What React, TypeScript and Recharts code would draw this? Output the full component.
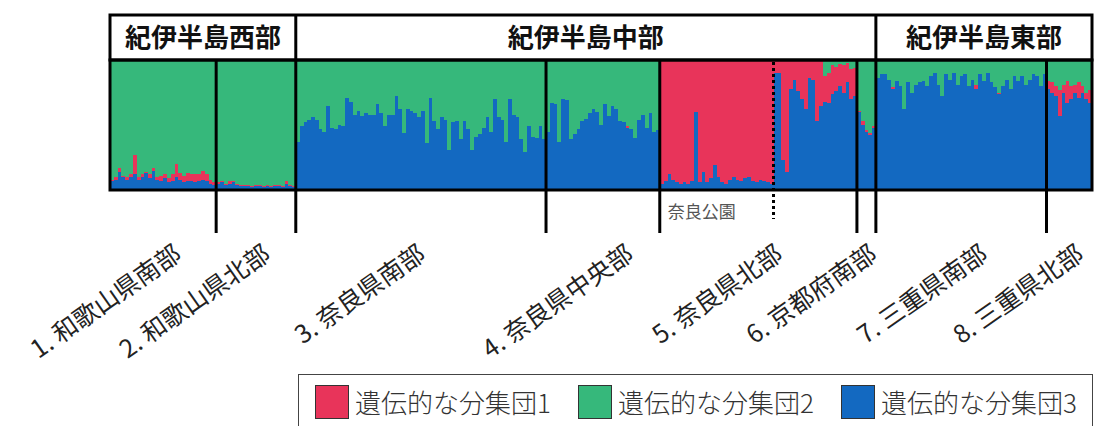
import React from 'react';
import { BarChart, Bar, XAxis, YAxis } from 'recharts';

const WIDTH = 1097;
const HEIGHT = 426;
const PLOT_LEFT = 110;
const PLOT_RIGHT = 1092;
const PLOT_TOP = 60;
const PLOT_BOTTOM = 190;
const HEADER_TOP = 15;

const RED = '#E8345A';
const GREEN = '#36B87B';
const BLUE = '#1369C1';
const FONT = '"Noto Sans CJK JP", "Noto Sans", sans-serif';

// Ancestry proportions per individual: q3 = cluster 3 (blue), q1 = cluster 1 (red).
// Cluster 2 (green) takes whatever is left, since the three sum to 1.
const wakayamaSouthQ3 = [0.07, 0.08, 0.14, 0.1, 0.08, 0.1, 0.12, 0.08, 0.1, 0.13, 0.09, 0.15, 0.08, 0.07, 0.09, 0.06, 0.07, 0.1, 0.08, 0.06, 0.07, 0.07, 0.06, 0.07, 0.08, 0.07, 0.05, 0.04];
const wakayamaSouthQ1 = [0.01, 0.02, 0.03, 0.01, 0.02, 0.02, 0.15, 0.02, 0.02, 0.01, 0.03, 0.02, 0.02, 0.04, 0.03, 0.03, 0.05, 0.1, 0.05, 0.05, 0.06, 0.05, 0.06, 0.05, 0.07, 0.05, 0.03, 0.02];

const wakayamaNorthQ3 = [0.05, 0.06, 0.04, 0.05, 0.06, 0.04, 0.03, 0.03, 0.03, 0.02, 0.03, 0.03, 0.02, 0.03, 0.02, 0.03, 0.03, 0.02, 0.05, 0.03, 0.02];
const wakayamaNorthQ1 = [0.01, 0.01, 0.01, 0.02, 0.01, 0.01, 0.01, 0.01, 0.01, 0.01, 0.01, 0.01, 0.01, 0.01, 0.01, 0.01, 0.01, 0.01, 0.02, 0.01, 0.01];

const naraSouthQ3 = [
  0.37, 0.49, 0.52, 0.54, 0.56, 0.54, 0.47, 0.45, 0.65, 0.48, 0.47, 0.5, 0.49, 0.71, 0.68, 0.58, 0.61, 0.57, 0.59, 0.58, 0.58, 0.66, 0.59,
  0.49, 0.58, 0.58, 0.72, 0.62, 0.44, 0.62, 0.61, 0.59, 0.56, 0.61, 0.36, 0.71, 0.53, 0.47, 0.56, 0.54, 0.31, 0.52, 0.53, 0.39, 0.53, 0.47,
  0.31, 0.41, 0.43, 0.48, 0.56, 0.45, 0.7, 0.56, 0.54, 0.37, 0.7, 0.58, 0.56, 0.39, 0.29, 0.49, 0.41, 0.4, 0.49, 0.39,
];
const naraSouthQ1 = naraSouthQ3.map(() => 0);

const naraCentralQ3 = [0.45, 0.67, 0.66, 0.37, 0.7, 0.69, 0.39, 0.43, 0.47, 0.53, 0.55, 0.59, 0.62, 0.6, 0.5, 0.66, 0.57, 0.65, 0.62, 0.53, 0.52, 0.48, 0.47, 0.4, 0.54, 0.58, 0.48, 0.59, 0.45, 0.46];
const naraCentralQ1 = [0, 0, 0, 0, 0, 0, 0, 0, 0, 0, 0, 0, 0, 0, 0, 0, 0, 0, 0, 0, 0, 0.01, 0, 0, 0, 0, 0, 0, 0, 0];

const naraParkQ3 = [0.05, 0.07, 0.12, 0.08, 0.06, 0.05, 0.06, 0.05, 0.07, 0.6, 0.06, 0.14, 0.06, 0.09, 0.19, 0.1, 0.06, 0.05, 0.08, 0.1, 0.08, 0.07, 0.09, 0.1, 0.07, 0.06, 0.08, 0.07, 0.06, 0.05];
const naraParkQ1 = [0.95, 0.93, 0.88, 0.92, 0.94, 0.95, 0.94, 0.95, 0.93, 0.4, 0.94, 0.86, 0.94, 0.91, 0.81, 0.9, 0.94, 0.95, 0.92, 0.9, 0.92, 0.93, 0.91, 0.9, 0.93, 0.94, 0.92, 0.93, 0.94, 0.95];

const naraNorthQ3 = [0.9, 0.9, 0.23, 0.14, 0.78, 0.85, 0.76, 0.7, 0.62, 0.86, 0.85, 0.53, 0.65, 0.68, 0.67, 0.74, 0.76, 0.8, 0.75, 0.83, 0.7, 0.72];
const naraNorthQ1 = [0.1, 0.1, 0.77, 0.86, 0.22, 0.15, 0.24, 0.3, 0.38, 0.14, 0.15, 0.47, 0.35, 0.2, 0.23, 0.22, 0.19, 0.17, 0.21, 0.15, 0.23, 0.22];

const kyotoSouthQ3 = [0.6, 0.5, 0.45, 0.42, 0.48];
const kyotoSouthQ1 = [0.01, 0.03, 0.01, 0.02, 0.01];

const mieSouthQ3 = [
  0.86, 0.89, 0.89, 0.85, 0.78, 0.84, 0.8, 0.62, 0.83, 0.75, 0.81, 0.83, 0.84, 0.8, 0.88, 0.9, 0.81, 0.72, 0.89, 0.85, 0.9, 0.81, 0.88,
  0.89, 0.8, 0.85, 0.78, 0.89, 0.84, 0.9, 0.83, 0.79, 0.74, 0.8, 0.85, 0.78, 0.88, 0.84, 0.88, 0.81, 0.85, 0.89, 0.88, 0.8, 0.89,
];
const mieSouthQ1 = [
  0, 0, 0, 0, 0.01, 0, 0, 0, 0, 0, 0, 0, 0, 0, 0, 0, 0, 0, 0, 0, 0, 0, 0, 0, 0, 0, 0.03, 0, 0, 0, 0, 0, 0.01, 0, 0, 0, 0, 0, 0, 0, 0, 0, 0, 0, 0,
];

const mieNorthQ3 = [0.78, 0.75, 0.72, 0.57, 0.75, 0.67, 0.7, 0.75, 0.71, 0.75, 0.7, 0.67];
const mieNorthQ1 = [0.06, 0.08, 0.08, 0.2, 0.06, 0.17, 0.1, 0.06, 0.12, 0.05, 0.05, 0.1];

const regionNames = ['1. 和歌山県南部', '2. 和歌山県北部', '3. 奈良県南部', '4. 奈良県中央部', '5. 奈良県北部', '6. 京都府南部', '7. 三重県南部', '8. 三重県北部'];
const groupNames = ['紀伊半島西部', '紀伊半島中部', '紀伊半島東部'];
const clusterNames = ['遺伝的な分集団1', '遺伝的な分集団2', '遺伝的な分集団3'];
const parkLabel = '奈良公園';

// samples in plotting order; region 5 is Nara Park followed by the rest of northern Nara
const samples = [
  { region: 0, q3: wakayamaSouthQ3, q1: wakayamaSouthQ1 },
  { region: 1, q3: wakayamaNorthQ3, q1: wakayamaNorthQ1 },
  { region: 2, q3: naraSouthQ3, q1: naraSouthQ1 },
  { region: 3, q3: naraCentralQ3, q1: naraCentralQ1 },
  { region: 4, q3: naraParkQ3, q1: naraParkQ1 },
  { region: 4, q3: naraNorthQ3, q1: naraNorthQ1 },
  { region: 5, q3: kyotoSouthQ3, q1: kyotoSouthQ1 },
  { region: 6, q3: mieSouthQ3, q1: mieSouthQ1 },
  { region: 7, q3: mieNorthQ3, q1: mieNorthQ1 },
];

const rows: { id: number; region: number; q1: number; q2: number; q3: number }[] = [];
samples.forEach((s) =>
  s.q3.forEach((b, i) => {
    const r = s.q1[i];
    rows.push({ id: rows.length, region: s.region, q3: b, q1: r, q2: Math.max(0, +(1 - b - r).toFixed(3)) });
  }),
);

const N = rows.length;
const step = (PLOT_RIGHT - PLOT_LEFT) / N;
const xAt = (i: number) => PLOT_LEFT + i * step;

// first sample index of each region, plus the end
const regionStart = regionNames.map((_, r) => rows.findIndex((d) => d.region === r));
const regionEnd = regionNames.map((_, r) => (r + 1 < regionNames.length ? regionStart[r + 1] : N));
const parkEnd = wakayamaSouthQ3.length + wakayamaNorthQ3.length + naraSouthQ3.length + naraCentralQ3.length + naraParkQ3.length;

// label anchors sit a little right of each region's middle
const labelShift = [20, 16, 6, 32, 26, 12, 28, 16];

const groupBounds = [
  [PLOT_LEFT, xAt(regionStart[2])],
  [xAt(regionStart[2]), xAt(regionStart[6])],
  [xAt(regionStart[6]), PLOT_RIGHT],
];

const Overlay = () => (
  <svg width={WIDTH} height={HEIGHT} style={{ position: 'absolute', left: 0, top: 0, pointerEvents: 'none' }}>
    <rect x={PLOT_LEFT} y={HEADER_TOP} width={PLOT_RIGHT - PLOT_LEFT} height={PLOT_TOP - HEADER_TOP} fill="none" stroke="#000" strokeWidth={3} />
    <rect x={PLOT_LEFT} y={PLOT_TOP} width={PLOT_RIGHT - PLOT_LEFT} height={PLOT_BOTTOM - PLOT_TOP} fill="none" stroke="#000" strokeWidth={3} />
    {groupBounds.slice(1).map(([x0]) => (
      <line key={x0} x1={x0} x2={x0} y1={HEADER_TOP} y2={PLOT_TOP} stroke="#000" strokeWidth={3} />
    ))}
    {groupBounds.map(([x0, x1], i) => (
      <text key={groupNames[i]} x={(x0 + x1) / 2} y={47} textAnchor="middle" fontFamily={FONT} fontWeight={700} fontSize={26} fill="#111">
        {groupNames[i]}
      </text>
    ))}
    {regionStart.slice(1).map((s) => (
      <line key={s} x1={xAt(s)} x2={xAt(s)} y1={PLOT_TOP} y2={233} stroke="#000" strokeWidth={3} />
    ))}
    <line x1={xAt(parkEnd)} x2={xAt(parkEnd)} y1={PLOT_TOP + 2} y2={219} stroke="#000" strokeWidth={3} strokeDasharray="3 3" />
    <text x={xAt(regionStart[4]) + 8} y={218} fontFamily={FONT} fontSize={17} fill="#555">
      {parkLabel}
    </text>
    {regionNames.map((name, r) => {
      const cx = (xAt(regionStart[r]) + xAt(regionEnd[r])) / 2 + labelShift[r];
      const cy = 258;
      return (
        <text key={name} x={cx} y={cy} textAnchor="end" transform={`rotate(-35 ${cx} ${cy})`} fontFamily={FONT} fontSize={25} fill="#222">
          {name}
        </text>
      );
    })}
  </svg>
);

const Key = () => {
  const colors = [RED, GREEN, BLUE];
  return (
    <div
      style={{
        position: 'absolute',
        left: 298,
        top: 374,
        width: 795,
        height: 60,
        border: '1.5px solid #444',
        boxSizing: 'border-box',
        fontFamily: FONT,
        background: '#fff',
      }}
    >
      {clusterNames.map((name, i) => (
        <div key={name} style={{ position: 'absolute', left: 16 + i * 263, top: 10, display: 'flex', alignItems: 'center' }}>
          <span style={{ width: 34, height: 34, background: colors[i], border: '1px solid #333', boxSizing: 'border-box' }} />
          <span style={{ marginLeft: 6, fontSize: 26, fontWeight: 300, color: '#333', lineHeight: '34px' }}>{name}</span>
        </div>
      ))}
    </div>
  );
};

export default function App() {
  return (
    <div style={{ position: 'absolute', left: 0, top: 0, width: WIDTH, height: HEIGHT, background: '#fff', overflow: 'hidden' }}>
      <style>{'.recharts-bar-rectangle path{shape-rendering:crispEdges}'}</style>
      <BarChart
        width={WIDTH}
        height={HEIGHT}
        data={rows}
        margin={{ top: PLOT_TOP, right: WIDTH - PLOT_RIGHT, bottom: HEIGHT - PLOT_BOTTOM, left: PLOT_LEFT }}
        barCategoryGap={0}
        barGap={0}
      >
        <XAxis dataKey="id" hide />
        <YAxis hide domain={[0, 1]} />
        <Bar dataKey="q3" stackId="q" fill={BLUE} isAnimationActive={false} />
        <Bar dataKey="q1" stackId="q" fill={RED} isAnimationActive={false} />
        <Bar dataKey="q2" stackId="q" fill={GREEN} isAnimationActive={false} />
      </BarChart>
      <Overlay />
      <Key />
    </div>
  );
}
